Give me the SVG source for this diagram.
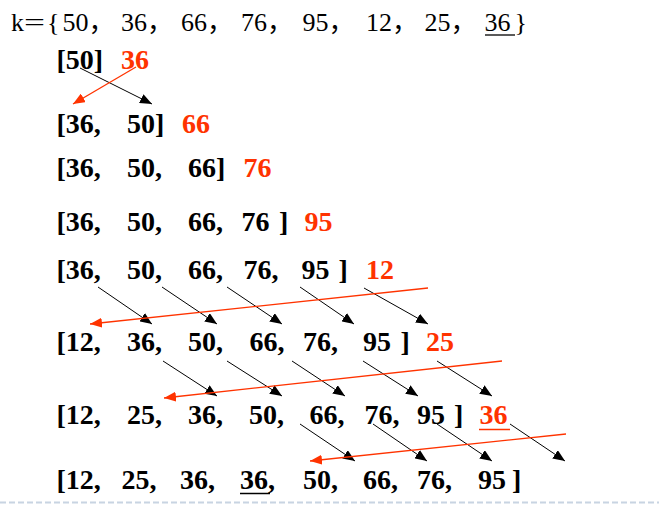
<svg xmlns="http://www.w3.org/2000/svg" width="659" height="508" viewBox="0 0 659 508">
<style>
.t{font-family:"Liberation Serif","Times New Roman","Noto Sans CJK SC",serif;font-size:26px;fill:#000}
.r{font-family:"Liberation Serif","Times New Roman",serif;font-size:28px;font-weight:bold;fill:#000}
.red{fill:#ff3300}
.ab{stroke:#000;stroke-width:1;fill:none}
.ar{stroke:#ff3300;stroke-width:1.3;fill:none}
</style>
<defs>
<marker id="hb" markerUnits="userSpaceOnUse" markerWidth="12" markerHeight="10" refX="12" refY="5" orient="auto"><path d="M0,0 L12,5 L0,10 z" fill="#000"/></marker>
<marker id="hr" markerUnits="userSpaceOnUse" markerWidth="12" markerHeight="10" refX="12" refY="5" orient="auto"><path d="M0,0 L12,5 L0,10 z" fill="#ff3300"/></marker>
</defs>
<rect width="659" height="508" fill="#fff"/>
<g id="title">
<text class="t" y="30.5"><tspan x="11">k</tspan></text>
<text class="t" x="24" y="30.5" textLength="21" lengthAdjust="spacingAndGlyphs">=</text>
<text class="t" y="30.5"><tspan x="47">{</tspan><tspan x="62.5">50，</tspan><tspan x="121">36，</tspan><tspan x="181">66，</tspan><tspan x="241">76，</tspan><tspan x="302.5">95，</tspan><tspan x="366">12，</tspan><tspan x="424.5">25，</tspan><tspan x="484.5">36</tspan><tspan x="514.5">}</tspan></text>
<line x1="485" y1="35" x2="515" y2="35" stroke="#000" stroke-width="1.3"/>
</g>
<g id="row1"><text class="r" y="68.5"><tspan x="56.5">[50]</tspan><tspan x="121" class="red">36</tspan></text></g>
<g id="row2"><text class="r" y="132.5"><tspan x="56.5">[36,</tspan><tspan x="127">50]</tspan><tspan x="182" class="red">66</tspan></text></g>
<g id="row3"><text class="r" y="177"><tspan x="56.5">[36,</tspan><tspan x="127">50,</tspan><tspan x="188">66]</tspan><tspan x="243.5" class="red">76</tspan></text></g>
<g id="row4"><text class="r" y="230.5"><tspan x="56.5">[36,</tspan><tspan x="127">50,</tspan><tspan x="188">66,</tspan><tspan x="241.5">76</tspan><tspan x="279">]</tspan><tspan x="304.5" class="red">95</tspan></text></g>
<g id="row5"><text class="r" y="278.5"><tspan x="56.5">[36,</tspan><tspan x="127">50,</tspan><tspan x="188">66,</tspan><tspan x="243.5">76,</tspan><tspan x="301.5">95</tspan><tspan x="338.5">]</tspan><tspan x="366" class="red">12</tspan></text></g>
<g id="row6"><text class="r" y="351"><tspan x="56.5">[12,</tspan><tspan x="127">36,</tspan><tspan x="188">50,</tspan><tspan x="249.5">66,</tspan><tspan x="303">76,</tspan><tspan x="363">95</tspan><tspan x="400.5">]</tspan><tspan x="426" class="red">25</tspan></text></g>
<g id="row7"><text class="r" y="423.5"><tspan x="56.5">[12,</tspan><tspan x="127">25,</tspan><tspan x="188">36,</tspan><tspan x="249">50,</tspan><tspan x="309.5">66,</tspan><tspan x="364.5">76,</tspan><tspan x="417">95</tspan><tspan x="454">]</tspan><tspan x="479.5" class="red">36</tspan></text>
<line x1="479" y1="429.5" x2="510" y2="429.5" stroke="#ff3300" stroke-width="1.5"/></g>
<g id="row8"><text class="r" y="488.5"><tspan x="56.5">[12,</tspan><tspan x="121.5">25,</tspan><tspan x="180">36,</tspan><tspan x="240">36,</tspan><tspan x="303">50,</tspan><tspan x="363">66,</tspan><tspan x="417">76,</tspan><tspan x="478">95</tspan><tspan x="512">]</tspan></text>
<line x1="240" y1="493.5" x2="270" y2="493.5" stroke="#000" stroke-width="1.5"/></g>
<g id="connectors">
<line class="ab" x1="80" y1="68" x2="152" y2="104" marker-end="url(#hb)"/>
<line class="ar" x1="136" y1="67" x2="73" y2="104" marker-end="url(#hr)"/>
<line class="ab" x1="98" y1="287" x2="152" y2="324" marker-end="url(#hb)"/>
<line class="ab" x1="162" y1="287" x2="217" y2="324" marker-end="url(#hb)"/>
<line class="ab" x1="227" y1="287" x2="282" y2="324" marker-end="url(#hb)"/>
<line class="ab" x1="300" y1="287" x2="354" y2="324" marker-end="url(#hb)"/>
<line class="ab" x1="364" y1="288" x2="428" y2="324" marker-end="url(#hb)"/>
<line class="ar" x1="428" y1="288" x2="90" y2="324" marker-end="url(#hr)"/>
<line class="ab" x1="163" y1="361" x2="217" y2="396" marker-end="url(#hb)"/>
<line class="ab" x1="227" y1="361" x2="282" y2="396" marker-end="url(#hb)"/>
<line class="ab" x1="292" y1="361" x2="345" y2="396" marker-end="url(#hb)"/>
<line class="ab" x1="363" y1="361" x2="418" y2="396" marker-end="url(#hb)"/>
<line class="ab" x1="437" y1="361" x2="492" y2="396" marker-end="url(#hb)"/>
<line class="ar" x1="502" y1="361" x2="164" y2="398" marker-end="url(#hr)"/>
<line class="ab" x1="300" y1="424" x2="355" y2="461" marker-end="url(#hb)"/>
<line class="ab" x1="373" y1="424" x2="427" y2="461" marker-end="url(#hb)"/>
<line class="ab" x1="437" y1="424" x2="492" y2="461" marker-end="url(#hb)"/>
<line class="ab" x1="510" y1="424" x2="565" y2="461" marker-end="url(#hb)"/>
<line class="ar" x1="566" y1="434" x2="310" y2="461" marker-end="url(#hr)"/>
</g>
<line x1="0" y1="502.5" x2="659" y2="502.5" stroke="#c8d4e2" stroke-width="2" stroke-dasharray="6 3"/>
</svg>
